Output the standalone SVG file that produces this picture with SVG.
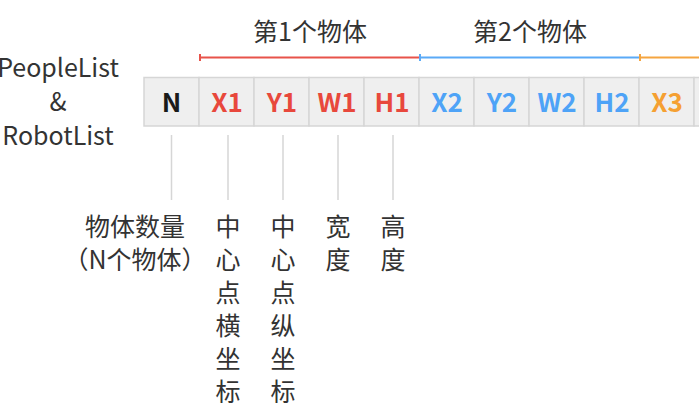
<svg xmlns="http://www.w3.org/2000/svg" width="699" height="408" viewBox="0 0 699 408">
<style>
text{font-family:"Noto Sans CJK SC","Noto Sans",sans-serif;}
.t{font-size:25px;font-weight:normal;fill:#333;text-anchor:middle;}
.c{font-size:26px;font-weight:bold;text-anchor:middle;}
.cell{fill:#efefef;stroke:#d6d6d6;stroke-width:1.5;}
.red{fill:#e8483c;}
.blue{fill:#4ea3f7;}
.orange{fill:#f5a032;}
.blk{fill:#1a1a1a;}
.v{stroke:#d6d6d6;stroke-width:1.5;}
</style>
<rect width="699" height="408" fill="#fff"/>
<g id="title">
<text class="t" x="58" y="77">PeopleList</text>
<text class="t" x="58" y="111">&amp;</text>
<text class="t" x="58" y="145">RobotList</text>
</g>
<g id="brackets">
<text class="t" x="310" y="41">第1个物体</text>
<text class="t" x="530" y="41">第2个物体</text>
<line x1="200" y1="57.5" x2="420" y2="57.5" stroke="#e8534a" stroke-width="2"/>
<line x1="200" y1="54" x2="200" y2="61" stroke="#e8534a" stroke-width="2"/>
<line x1="420" y1="57.5" x2="640" y2="57.5" stroke="#5aaaf7" stroke-width="2"/>
<line x1="420" y1="54" x2="420" y2="61" stroke="#5aaaf7" stroke-width="2"/>
<line x1="640" y1="57.5" x2="699" y2="57.5" stroke="#f5a540" stroke-width="2"/>
<line x1="640" y1="54" x2="640" y2="61" stroke="#f5a540" stroke-width="2"/>
</g>
<g id="cells">
<g id="cell-N"><rect class="cell" x="144" y="77.5" width="55" height="48.5"/><text class="c blk" x="171.5" y="112">N</text></g>
<g id="cell-X1"><rect class="cell" x="199" y="77.5" width="55" height="48.5"/><text class="c red" x="227" y="112">X1</text></g>
<g id="cell-Y1"><rect class="cell" x="254" y="77.5" width="55" height="48.5"/><text class="c red" x="282" y="112">Y1</text></g>
<g id="cell-W1"><rect class="cell" x="309" y="77.5" width="55" height="48.5"/><text class="c red" x="337" y="112">W1</text></g>
<g id="cell-H1"><rect class="cell" x="364" y="77.5" width="55" height="48.5"/><text class="c red" x="392" y="112">H1</text></g>
<g id="cell-X2"><rect class="cell" x="419" y="77.5" width="55" height="48.5"/><text class="c blue" x="447" y="112">X2</text></g>
<g id="cell-Y2"><rect class="cell" x="474" y="77.5" width="55" height="48.5"/><text class="c blue" x="502" y="112">Y2</text></g>
<g id="cell-W2"><rect class="cell" x="529" y="77.5" width="55" height="48.5"/><text class="c blue" x="557" y="112">W2</text></g>
<g id="cell-H2"><rect class="cell" x="584" y="77.5" width="55" height="48.5"/><text class="c blue" x="612" y="112">H2</text></g>
<g id="cell-X3"><rect class="cell" x="639" y="77.5" width="55" height="48.5"/><text class="c orange" x="667" y="112">X3</text></g>
<g id="cell-next"><rect class="cell" x="694" y="77.5" width="55" height="48.5"/></g>
</g>
<g id="connectors">
<line class="v" x1="171.5" y1="135" x2="171.5" y2="200"/>
<line class="v" x1="228" y1="135" x2="228" y2="200"/>
<line class="v" x1="283" y1="135" x2="283" y2="200"/>
<line class="v" x1="338" y1="135" x2="338" y2="200"/>
<line class="v" x1="393" y1="135" x2="393" y2="200"/>
</g>
<g id="labels">
<text class="t" x="135" y="236">物体数量</text>
<text class="t" x="135" y="269">（N个物体）</text>
<text class="t" x="228"><tspan x="228" y="236">中</tspan><tspan x="228" y="269">心</tspan><tspan x="228" y="302">点</tspan><tspan x="228" y="335">横</tspan><tspan x="228" y="368">坐</tspan><tspan x="228" y="401">标</tspan></text>
<text class="t" x="283"><tspan x="283" y="236">中</tspan><tspan x="283" y="269">心</tspan><tspan x="283" y="302">点</tspan><tspan x="283" y="335">纵</tspan><tspan x="283" y="368">坐</tspan><tspan x="283" y="401">标</tspan></text>
<text class="t" x="338"><tspan x="338" y="236">宽</tspan><tspan x="338" y="269">度</tspan></text>
<text class="t" x="393"><tspan x="393" y="236">高</tspan><tspan x="393" y="269">度</tspan></text>
</g>
</svg>
